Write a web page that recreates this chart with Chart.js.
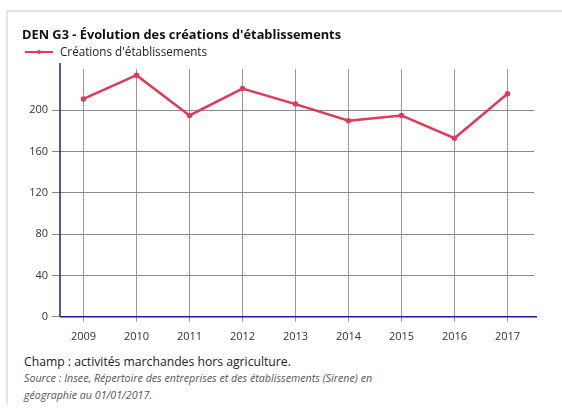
<!DOCTYPE html>
<html><head><meta charset="utf-8">
<script src="https://cdn.jsdelivr.net/npm/chart.js@4/dist/chart.umd.min.js"></script>
<style>
html,body{margin:0;padding:0;background:#fff;width:562px;height:412px;overflow:hidden;font-family:"Open Sans",sans-serif;}
#frame{position:absolute;left:6px;top:10px;width:570px;height:392px;border-top:2px solid #e4e4e4;border-left:2px solid #e4e4e4;}
#title{position:absolute;left:22px;top:25px;font-weight:bold;font-size:12.8px;color:#111;white-space:nowrap;}
#leg{position:absolute;left:25px;top:43px;font-size:11.7px;color:#222;white-space:nowrap;}
#leg .ln{display:inline-block;width:28px;height:2px;background:#e0395a;vertical-align:middle;position:relative;top:-1px;margin-right:7px;}
#leg .ln:after{content:"";position:absolute;left:12px;top:-1px;width:4px;height:4px;border-radius:2px;background:#e0395a;}
#wrap{position:absolute;left:0;top:0;width:562px;height:351px;}
#foot{position:absolute;left:24px;top:353px;color:#222;}
#foot .c{font-size:12.2px;line-height:17px;}
#foot .s{font-size:10.7px;font-style:italic;color:#555;line-height:17px;}
</style></head>
<body>
<div id="frame"></div>
<div id="wrap"><canvas id="c"></canvas></div>
<div id="title">DEN G3 - Évolution des créations d'établissements</div>
<div id="leg"><span class="ln"></span>Créations d'établissements</div>
<div id="foot"><div class="c">Champ : activités marchandes hors agriculture.</div><div class="s">Source : Insee, Répertoire des entreprises et des établissements (Sirene) en<br>géographie au 01/01/2017.</div></div>
<script>
const years = ['2009','2010','2011','2012','2013','2014','2015','2016','2017'];
const creations = [211, 234, 195, 221, 206, 190, 195, 173, 216];
const yTicks = [0, 40, 80, 120, 160, 200];
const seriesLabel = "Créations d'établissements";

const axisPlugin = {
  id: 'blueAxes',
  afterDraw(chart) {
    const {ctx, chartArea: a} = chart;
    ctx.save();
    ctx.strokeStyle = '#1c1c9c';
    ctx.lineWidth = 1.5;
    ctx.beginPath();
    ctx.moveTo(a.left + 3, a.top - 6);
    ctx.lineTo(a.left + 3, a.bottom);
    ctx.moveTo(a.left + 3, a.bottom);
    ctx.lineTo(a.right + 3, a.bottom);
    ctx.stroke();
    ctx.restore();
  }
};

new Chart(document.getElementById('c'), {
  type: 'line',
  data: {
    labels: years,
    datasets: [{
      label: seriesLabel,
      data: creations,
      borderColor: '#e0395a',
      backgroundColor: '#e0395a',
      borderWidth: 2.5,
      pointRadius: 1.5,
      pointHoverRadius: 1.5,
      tension: 0,
      fill: false
    }]
  },
  options: {
    responsive: true,
    maintainAspectRatio: false,
    animation: false,
    layout: { padding: { left: 17, right: 28, top: 69, bottom: 0 } },
    plugins: { legend: { display: false }, title: { display: false }, tooltip: { enabled: false } },
    scales: {
      x: {
        offset: true,
        grid: { color: '#999', lineWidth: 1, tickLength: 5, offset: false, drawOnChartArea: true },
        border: { display: false },
        ticks: { color: '#333', font: { family: 'Open Sans', size: 11 }, padding: 8, maxRotation: 0 }
      },
      y: {
        min: 0, max: 240,
        afterBuildTicks(scale) { scale.ticks = [...yTicks, 240].map(v => ({ value: v })); },
        afterFit(scale) { scale.width = 40; },
        grid: { color: ctx => (ctx.tick && ctx.tick.value === 240) ? 'rgba(0,0,0,0)' : '#8a8a8a', lineWidth: 1, tickLength: 5 },
        border: { display: false },
        ticks: {
          color: '#333', font: { family: 'Open Sans', size: 11 }, padding: 4,
          callback: v => yTicks.includes(v) ? String(v) : ''
        }
      }
    }
  },
  plugins: [axisPlugin]
});
</script>
</body></html>
